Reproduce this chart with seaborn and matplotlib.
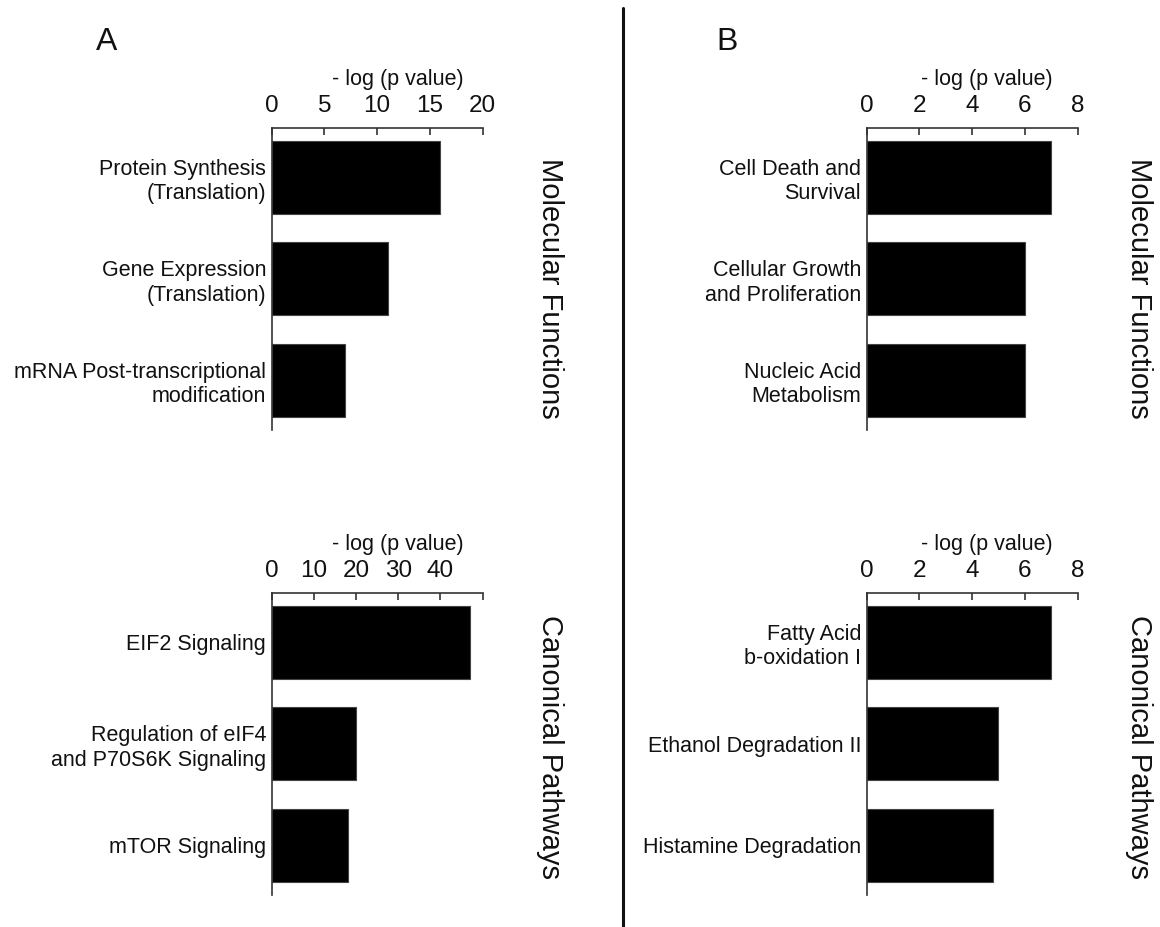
import matplotlib
matplotlib.use("Agg")
import matplotlib.pyplot as plt
import seaborn as sns

sns.set_theme(style="white")
plt.rcParams['font.family'] = ['Liberation Sans', 'DejaVu Sans']

# panel A - molecular functions
a_mf_terms = ["Protein Synthesis\n(Translation)", "Gene Expression\n(Translation)",
              "mRNA Post-transcriptional\nmodification"]
a_mf_vals = [16, 11, 7]
# panel A - canonical pathways
a_cp_terms = ["EIF2 Signaling", "Regulation of eIF4\nand P70S6K Signaling", "mTOR Signaling"]
a_cp_vals = [47, 20, 18]
# panel B - molecular functions
b_mf_terms = ["Cell Death and\nSurvival", "Cellular Growth\nand Proliferation",
              "Nucleic Acid\nMetabolism"]
b_mf_vals = [7, 6, 6]
# panel B - canonical pathways
b_cp_terms = ["Fatty Acid\nb-oxidation I", "Ethanol Degradation II", "Histamine Degradation"]
b_cp_vals = [7, 5, 4.8]

a_mf_ticks = [0, 5, 10, 15, 20]
a_cp_ticks = [0, 10, 20, 30, 40, 50]
a_cp_ticklabels = ["0", "10", "20", "30", "40", ""]
b_ticks = [0, 2, 4, 6, 8]

W, H = 1160, 927
fig = plt.figure(figsize=(W / 100, H / 100), dpi=100)


def panel(left_px, top_px, terms, vals, ticks, ticklabels, side_label, side_x, side_y, label_x):
    ax = fig.add_axes([left_px / W, 1 - (top_px + 302.3) / H, 210.8 / W, 302.3 / H])
    sns.barplot(x=vals, y=terms, orient="h", color="black", width=0.72,
                saturation=1, edgecolor="#444444", linewidth=0.8, ax=ax)
    ax.set_xlim(ticks[0], ticks[-1])
    ax.set_ylim(2.49, -0.49)
    ax.xaxis.tick_top()
    ax.xaxis.set_label_position("top")
    ax.set_xticks(ticks)
    ax.set_xticklabels(ticklabels)
    ax.set_xlabel("- log (p value)", fontsize=15.5, color="#111111", labelpad=7, x=label_x)
    ax.tick_params(axis="x", direction="in", length=5, width=1.2, colors="#333333",
                   labelsize=17.5, labelcolor="#111111", pad=8)
    ax.tick_params(axis="y", length=0, labelsize=15.5, labelcolor="#111111", pad=4)
    ax.set_ylabel("")
    for s in ["bottom", "right"]:
        ax.spines[s].set_visible(False)
    for s in ["top", "left"]:
        ax.spines[s].set_color("#333333")
        ax.spines[s].set_linewidth(1.2)
    # group name on the right, rotated
    ax.text(side_x, side_y, side_label, transform=ax.transAxes,
            rotation=-90, ha="center", va="center", fontsize=21, color="#111111")
    return ax


panel(271.7, 127.7, a_mf_terms, a_mf_vals, a_mf_ticks, [str(t) for t in a_mf_ticks],
      "Molecular Functions", 1.32, 0.47, 0.597)
panel(271.7, 592.7, a_cp_terms, a_cp_vals, a_cp_ticks, a_cp_ticklabels,
      "Canonical Pathways", 1.32, 0.49, 0.597)
panel(866.7, 127.7, b_mf_terms, b_mf_vals, b_ticks, [str(t) for t in b_ticks],
      "Molecular Functions", 1.29, 0.47, 0.57)
panel(866.7, 592.7, b_cp_terms, b_cp_vals, b_ticks, [str(t) for t in b_ticks],
      "Canonical Pathways", 1.29, 0.49, 0.57)

fig.text(96 / W, 1 - 50 / H, "A", fontsize=23, color="#111111", ha="left", va="baseline")
fig.text(716 / W, 1 - 50 / H, "B", fontsize=23, color="#111111", ha="left", va="baseline")
fig.add_artist(plt.Line2D([622.7 / W, 622.7 / W], [1 - 8 / H, 0], color="#111111", linewidth=2.2))

fig.savefig("out.png", dpi=100)
